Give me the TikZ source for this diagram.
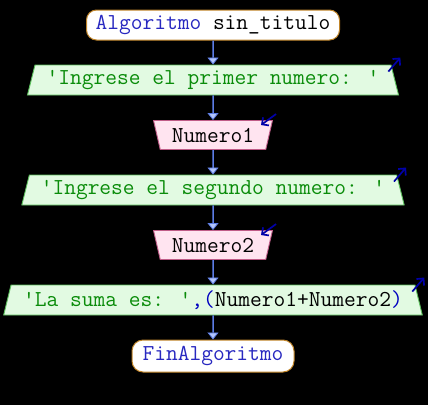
\documentclass[tikz,border=0pt]{standalone}
\usetikzlibrary{shapes.geometric,arrows.meta}

\definecolor{flowline}{HTML}{5C7CE4}
\definecolor{flowhead}{HTML}{B4C6FA}
\definecolor{termline}{HTML}{C08428}
\definecolor{kwblue}{HTML}{2828C0}
\definecolor{outfill}{HTML}{E2FAE2}
\definecolor{outline}{HTML}{5CC05C}
\definecolor{strgreen}{HTML}{0A8C0A}
\definecolor{opblue}{HTML}{0000C0}
\definecolor{infill}{HTML}{FFE4F0}
\definecolor{inline}{HTML}{C05C88}
\definecolor{ionavy}{HTML}{0000A8}

\newcommand{\sq}{\textquotesingle}

\begin{document}
\begin{tikzpicture}[x=1pt,y=-1pt,
  every node/.style={font=\fontsize{22.8}{24}\selectfont\ttfamily, inner sep=0pt},
  terminal/.style={draw=termline, fill=white, line width=1pt, rounded corners=10pt,
    minimum height=30pt},
  outbox/.style={trapezium, trapezium left angle=70, trapezium right angle=70,
    trapezium stretches=true, draw=outline, fill=outfill, line width=0.9pt,
    minimum height=30pt},
  inbox/.style={trapezium, trapezium left angle=110, trapezium right angle=110,
    trapezium stretches=true, draw=inline, fill=infill, line width=0.9pt,
    minimum height=29pt, minimum width=120pt},
  flow/.style={draw=flowline, line width=1.5pt,
    -{Triangle[width=11pt,length=7pt,fill=flowhead,line width=0.8pt]}},
  ioarrow/.style={draw=ionavy, line width=1.7pt, -{Straight Barb[length=5pt,width=10pt]}}
]
% background and page size
\fill[black] (0,0) rectangle (428,405);
\useasboundingbox (0,0) rectangle (428,405);

% flowchart blocks
\node[terminal, minimum width=253pt] (start) at (213,25)
  {\textcolor{kwblue}{Algoritmo} sin\_titulo};
\node[outbox, minimum width=373pt] (out1) at (213,80)
  {\textcolor{strgreen}{\sq Ingrese el primer numero: \sq}};
\node[inbox] (in1) at (213,135) {Numero1};
\node[outbox, minimum width=384pt] (out2) at (213,190)
  {\textcolor{strgreen}{\sq Ingrese el segundo numero: \sq}};
\node[inbox] (in2) at (213,245) {Numero2};
\node[outbox, minimum width=420pt] (out3) at (213,300)
  {\textcolor{strgreen}{\sq La suma es: \sq}\textcolor{opblue}{,(}Numero1+Numero2\textcolor{opblue}{)}};
\node[terminal, minimum width=162pt, minimum height=32pt, rounded corners=11pt] (stop) at (213,356)
  {\textcolor{kwblue}{FinAlgoritmo}};

% connectors
\draw[flow] (start.south) -- (out1.north);
\draw[flow] (out1.south) -- (in1.north);
\draw[flow] (in1.south) -- (out2.north);
\draw[flow] (out2.south) -- (in2.north);
\draw[flow] (in2.south) -- (out3.north);
\draw[flow] (out3.south) -- (stop.north);

% output / input markers
\foreach \n in {out1,out2,out3}
  \draw[ioarrow] ([shift={(-3,7)}]\n.top right corner) -- ([shift={(9,-7)}]\n.top right corner);
\foreach \n in {in1,in2}
  \draw[ioarrow] ([shift={(3,-6)}]\n.top right corner) -- ([shift={(-12,5)}]\n.top right corner);
\end{tikzpicture}
\end{document}
